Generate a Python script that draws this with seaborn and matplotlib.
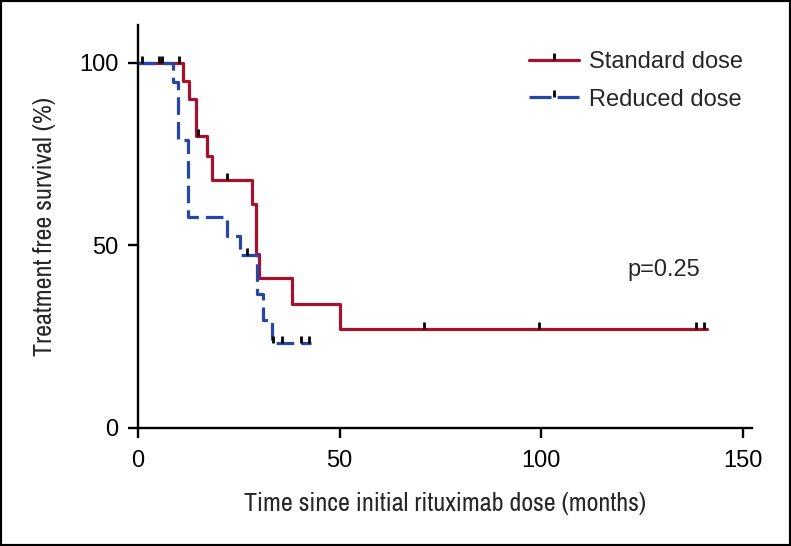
import numpy as np
import pandas as pd
import matplotlib
matplotlib.use('Agg')
import matplotlib.pyplot as plt
import seaborn as sns
from matplotlib.lines import Line2D
from matplotlib.patches import Rectangle
from matplotlib import font_manager

# Kaplan-Meier steps (months, % event free)
groups = ['Standard dose', 'Reduced dose']
std_time = [0, 11.2, 12.6, 14.3, 17.1, 18.3, 28.2, 29.3, 30.0, 38.1, 50.0, 141.0]
std_surv = [100, 95, 90, 80, 74.5, 68, 61.5, 47.8, 41, 34, 27, 27]
red_time = [0, 8.7, 9.9, 12.4, 22.0, 25.2, 29.5, 30.9, 33.2, 43.0]
red_surv = [100, 94.7, 79, 57.9, 52.6, 47.3, 36.8, 29.5, 23.2, 23.2]

# censored observations
std_cens = [1.0, 6.0, 10.1, 14.8, 22.0, 70.8, 99.5, 138.4, 140.3]
red_cens = [5.2, 27.0, 33.4, 35.8, 40.5, 42.5]

p_text = 'p=0.25'
x_ticks = [0, 50, 100, 150]
y_ticks = [0, 50, 100]

colors = {'Standard dose': '#a5122d', 'Reduced dose': '#2647a6'}

df = pd.concat([
    pd.DataFrame({'time': std_time, 'surv': std_surv, 'group': groups[0]}),
    pd.DataFrame({'time': red_time, 'surv': red_surv, 'group': groups[1]}),
], ignore_index=True)


def level_at(times, surv, t):
    idx = np.searchsorted(times, t, side='right') - 1
    return np.asarray(surv)[idx]


sns.set_theme(style='ticks')
plt.rcParams['font.family'] = ['Liberation Sans', 'DejaVu Sans']

# condensed face for the axis titles, if one is installed
narrow = None
for f in font_manager.fontManager.ttflist:
    if 'Narrow' in f.name and f.style == 'normal' and f.weight in (400, 'normal', 'regular'):
        narrow = f.fname
        break
if narrow is None:
    for f in font_manager.fontManager.ttflist:
        if f.name == 'DejaVu Sans' and f.stretch == 'condensed' and f.style == 'normal' \
                and f.weight in (400, 'normal', 'book'):
            narrow = f.fname
            break
label_font = font_manager.FontProperties(fname=narrow) if narrow else \
    font_manager.FontProperties(family='Liberation Sans')

fig = plt.figure(figsize=(7.91, 5.46), dpi=100)
ax = fig.add_axes([138 / 791, 1 - 428 / 546, (752 - 138) / 791, (428 - 25) / 546])

sns.lineplot(data=df, x='time', y='surv', hue='group', style='group',
             hue_order=groups, style_order=groups, palette=colors,
             dashes={'Standard dose': '', 'Reduced dose': (5.5, 2.2)},
             drawstyle='steps-post', estimator=None, sort=False,
             linewidth=2.3, legend=False, ax=ax)

# censor ticks sit on top of the curve
tick = [(0, 0), (0, 1)]
ax.plot(std_cens, level_at(std_time, std_surv, std_cens), ls='none',
        marker=tick, ms=10, mew=2, mec='black', zorder=5)
ax.plot(red_cens, level_at(red_time, red_surv, red_cens), ls='none',
        marker=tick, ms=10, mew=2, mec='black', zorder=5)

ax.set_xlim(0, 152.2)
ax.set_ylim(0, 110.4)
ax.set_xticks(x_ticks)
ax.set_yticks(y_ticks)
for s in ['top', 'right']:
    ax.spines[s].set_visible(False)
for s in ['left', 'bottom']:
    ax.spines[s].set_linewidth(1.7)
    ax.spines[s].set_color('black')
ax.tick_params(direction='out', length=7, width=1.7, labelsize=17, colors='black')
ax.tick_params(axis='x', pad=9)
ax.tick_params(axis='y', pad=7)

xl = ax.set_xlabel('Time since initial rituximab dose (months)', fontproperties=label_font)
yl = ax.set_ylabel('Treatment free survival (%)', fontproperties=label_font)
xl.set_fontsize(18)
yl.set_fontsize(18)
# fit the axis title to the width it has in the reference
fig.canvas.draw()
w = xl.get_window_extent().width
size = 18 * 402 / w
xl.set_fontsize(size)
yl.set_fontsize(size)
ax.xaxis.set_label_coords(0.5, -0.158)
ax.yaxis.set_label_coords(-0.134, 0.5)

ax.text(130.4, 43.3, p_text, ha='center', va='center', fontsize=17)

handles = [
    Line2D([], [], color=colors['Standard dose'], lw=2.3, marker=tick, ms=10, mew=2, mec='black'),
    Line2D([], [], color=colors['Reduced dose'], lw=2.3, ls=(0, (6.9, 1.9)), marker=tick, ms=10, mew=2, mec='black'),
]
ax.legend(handles, groups, loc='upper left', bbox_to_anchor=(529 / 791, 1 - 51 / 546),
          bbox_transform=fig.transFigure, frameon=False, fontsize=17, borderpad=0,
          borderaxespad=0, handlelength=2.1, handletextpad=0.45, labelspacing=0.66)

fig.patches.append(Rectangle((0, 0), 1, 1, transform=fig.transFigure,
                             fill=False, lw=3, ec='black'))

fig.savefig('out.png', dpi=100)
